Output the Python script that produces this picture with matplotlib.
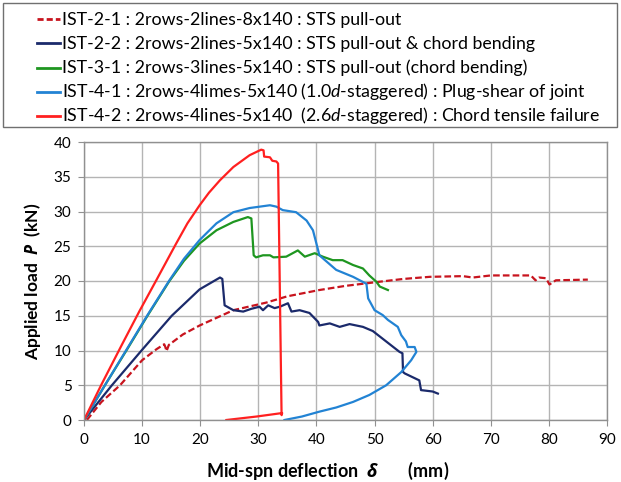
import matplotlib
matplotlib.use("Agg")
import matplotlib.pyplot as plt
from matplotlib.patches import Rectangle
from matplotlib.lines import Line2D

plt.rcParams['font.family'] = ['Lato', 'DejaVu Sans']
plt.rcParams['mathtext.fontset'] = 'custom'
plt.rcParams['mathtext.rm'] = 'Lato'
plt.rcParams['mathtext.it'] = 'Lato:italic'
plt.rcParams['mathtext.bf'] = 'Lato:bold'
try:
    plt.rcParams['mathtext.bfit'] = 'Open Sans:italic:bold'
except Exception:
    pass

# ---------------- data ----------------
labels = [
    "IST-2-1 : 2rows-2lines-8x140 : STS pull-out",
    "IST-2-2 : 2rows-2lines-5x140 : STS pull-out & chord bending",
    "IST-3-1 : 2rows-3lines-5x140 : STS pull-out (chord bending)",
    "IST-4-1 : 2rows-4limes-5x140 (1.0$d$-staggered) : Plug-shear of joint",
    "IST-4-2 : 2rows-4lines-5x140  (2.6$d$-staggered) : Chord tensile failure",
]

x_ist21 = [0.5, 3.0, 6.2, 10.0, 12.5, 13.8, 14.0, 14.2, 14.6, 17.0, 19.9, 25.7, 31.4, 35.0,
           40.5, 45.0, 50.9, 55.0, 59.5, 65.2, 66.9, 70.0, 76.9, 77.7, 78.3, 79.5, 80.1,
           81.2, 86.7]
y_ist21 = [0.0, 2.6, 5.0, 8.6, 10.2, 10.9, 10.5, 9.9, 10.8, 12.3, 13.6, 15.8, 16.9, 17.8,
           18.7, 19.3, 19.9, 20.3, 20.6, 20.7, 20.5, 20.8, 20.8, 20.1, 20.5, 20.4, 19.5,
           20.1, 20.2]

x_ist22 = [0, 4.8, 10.0, 15.1, 19.9, 23.4, 23.8, 24.2, 25.7, 27.4, 28.8, 30.2, 30.8, 31.7,
           32.8, 33.7, 35.1, 35.7, 37.1, 38.8, 40.3, 40.5, 42.3, 44.0, 45.7, 48.0, 49.7,
           52.0, 54.3, 54.8, 54.9, 55.2, 57.7, 58.0, 60.0, 60.9]
y_ist22 = [0, 5.0, 10.1, 15.0, 18.8, 20.5, 20.3, 16.5, 15.8, 15.6, 16.0, 16.3, 15.8, 16.5,
           16.1, 16.3, 16.8, 15.6, 15.8, 15.4, 14.1, 13.6, 13.9, 13.4, 13.8, 13.4, 12.8,
           11.3, 9.8, 9.6, 6.9, 6.7, 5.7, 4.3, 4.1, 3.8]

x_ist31 = [0, 3.6, 7.3, 11.0, 14.7, 17.2, 19.9, 22.8, 25.7, 28.2, 28.8, 29.2, 29.6, 30.8,
           32.0, 32.6, 34.8, 36.8, 38.0, 39.7, 41.1, 42.8, 44.5, 46.3, 48.0, 49.1, 50.3,
           50.9, 52.3]
y_ist31 = [0, 5.0, 10.0, 15.1, 20.0, 22.9, 25.4, 27.3, 28.5, 29.2, 29.0, 23.7, 23.4, 23.7,
           23.7, 23.4, 23.5, 24.4, 23.5, 24.0, 23.5, 23.0, 23.0, 22.3, 21.8, 20.8, 19.9,
           19.2, 18.7]

x_ist41 = [0, 3.6, 7.3, 11.0, 14.7, 17.2, 19.9, 22.8, 25.7, 28.5, 32.0, 33.1, 34.2, 36.5,
           38.3, 39.4, 40.3, 40.5, 43.4, 46.3, 48.6, 48.9, 50.0, 51.4, 52.3, 54.0, 54.6,
           55.4, 55.7, 56.9, 57.2, 56.3, 54.6, 52.0, 49.1, 46.3, 43.4, 40.5, 37.5, 34.5]
y_ist41 = [0, 5.0, 10.1, 15.2, 20.1, 23.2, 25.9, 28.3, 29.9, 30.5, 30.9, 30.7, 30.2, 29.9,
           28.7, 27.3, 24.4, 23.7, 21.6, 20.6, 19.6, 17.5, 15.8, 15.1, 14.4, 13.4, 12.2,
           11.3, 10.5, 10.5, 9.8, 8.6, 6.9, 5.0, 3.6, 2.6, 1.8, 1.2, 0.5, 0.0]

x_ist42 = [0, 3.0, 6.5, 9.5, 12.5, 15.8, 17.8, 19.9, 21.5, 23.4, 25.7, 28.5, 30.5, 30.9,
           31.0, 32.0, 32.4, 33.1, 33.4, 34.0, 34.1, 29.7, 24.5]
y_ist42 = [0, 5.1, 10.8, 15.6, 20.2, 25.3, 28.3, 30.9, 32.7, 34.5, 36.4, 38.1, 38.9, 38.8,
           37.9, 37.8, 37.3, 37.2, 36.9, 0.7, 1.0, 0.5, 0.0]

x_ticks = [0, 10, 20, 30, 40, 50, 60, 70, 80, 90]
y_ticks = [0, 5, 10, 15, 20, 25, 30, 35, 40]

# ---------------- figure ----------------
W, H = 621, 482
fig = plt.figure(figsize=(W / 100, H / 100), dpi=100)
ax = fig.add_axes([84 / W, (H - 420) / H, (607 - 84) / W, (420 - 142) / H])

lw = 1.6
c21, c22, c31, c41, c42 = '#c8141e', '#1b2a6b', '#1e9620', '#2283d4', '#ff2020'
l21, = ax.plot(x_ist21, y_ist21, color=c21, lw=lw, dashes=(3, 1.4))
l22, = ax.plot(x_ist22, y_ist22, color=c22, lw=lw)
l31, = ax.plot(x_ist31, y_ist31, color=c31, lw=lw)
l41, = ax.plot(x_ist41, y_ist41, color=c41, lw=lw)
l42, = ax.plot(x_ist42, y_ist42, color=c42, lw=lw)
series_lines = [l21, l22, l31, l41, l42]

ax.set_xlim(0, 90)
ax.set_ylim(0, 40)
ax.set_xticks(x_ticks)
ax.set_yticks(y_ticks)
ax.grid(True, color='#b4b4b4', lw=1.0)
ax.set_axisbelow(True)
for s in ax.spines.values():
    s.set_color('#909090')
    s.set_linewidth(1.0)
ax.tick_params(direction='out', length=4, color='#909090', labelsize=11, pad=5)

try:
    ax.set_xlabel(r"Mid-spn deflection  $\mathbfit{\delta}$       (mm)", fontsize=13,
                  fontweight='bold', va='center')
    ax.set_ylabel(r"Applied load  $\mathbfit{P}$  (kN)", fontsize=12.5, fontweight='bold', labelpad=8)
    fig.canvas.draw()
except Exception:
    ax.set_xlabel(r"Mid-spn deflection  $\delta$       (mm)", fontsize=13,
                  fontweight='bold', va='center')
    ax.set_ylabel(r"Applied load  $P$  (kN)", fontsize=12.5, fontweight='bold', labelpad=8)
ax.xaxis.set_label_coords(0.4665, -0.183)

# legend (box + entries) in figure pixel coordinates
fig.patches.append(Rectangle((3 / W, (H - 127) / H), 614 / W, 124 / H,
                             transform=fig.transFigure, fill=False,
                             edgecolor='#707070', lw=1.0))
row_y = [19, 43, 67.5, 92, 116]
for ln, lab, yc in zip(series_lines, labels, row_y):
    yf = (H - yc) / H
    handle = Line2D([37 / W, 60 / W], [yf, yf], transform=fig.transFigure,
                    color=ln.get_color(), lw=2.0, linestyle=ln.get_linestyle())
    if ln is l21:
        handle.set_dashes((2.2, 1.1))
    fig.add_artist(handle)
    fig.text(62 / W, (H - yc - 5.5) / H, lab, fontsize=12.8, va='baseline', ha='left')

fig.savefig('out.png', dpi=100)
